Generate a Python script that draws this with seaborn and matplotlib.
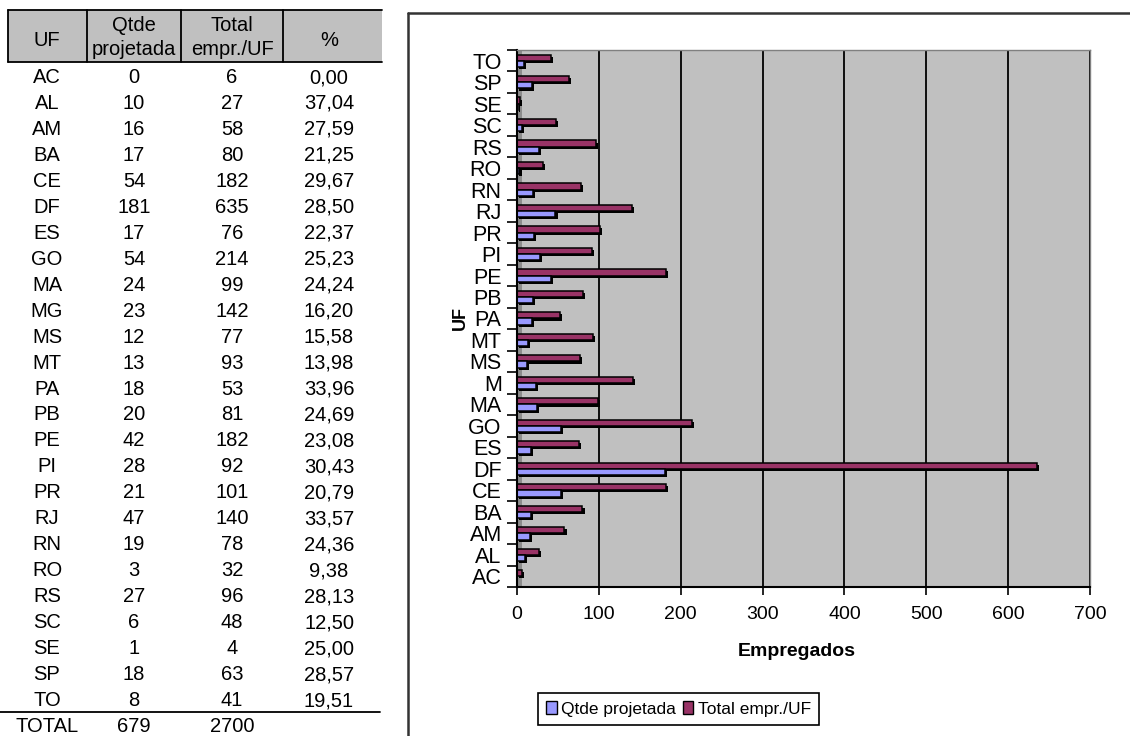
import numpy as np
import pandas as pd
import seaborn as sns
import matplotlib.pyplot as plt
from matplotlib import patheffects
from matplotlib.patches import Rectangle, Patch
from matplotlib.lines import Line2D

# ---- data -------------------------------------------------------------
uf = ["AC", "AL", "AM", "BA", "CE", "DF", "ES", "GO", "MA", "MG", "MS", "MT", "PA",
      "PB", "PE", "PI", "PR", "RJ", "RN", "RO", "RS", "SC", "SE", "SP", "TO"]
chart_labels = ["AC", "AL", "AM", "BA", "CE", "DF", "ES", "GO", "MA", "M", "MS", "MT", "PA",
                "PB", "PE", "PI", "PR", "RJ", "RN", "RO", "RS", "SC", "SE", "SP", "TO"]
qtde_projetada = [0, 10, 16, 17, 54, 181, 17, 54, 24, 23, 12, 13, 18,
                  20, 42, 28, 21, 47, 19, 3, 27, 6, 1, 18, 8]
total_empr = [6, 27, 58, 80, 182, 635, 76, 214, 99, 142, 77, 93, 53,
              81, 182, 92, 101, 140, 78, 32, 96, 48, 4, 63, 41]
percentual = [0.00, 37.04, 27.59, 21.25, 29.67, 28.50, 22.37, 25.23, 24.24, 16.20, 15.58, 13.98, 33.96,
              24.69, 23.08, 30.43, 20.79, 33.57, 24.36, 9.38, 28.13, 12.50, 25.00, 28.57, 19.51]
soma_qtde = 679
soma_total = 2700
series_names = ["Qtde projetada", "Total empr./UF"]
x_ticks = [0, 100, 200, 300, 400, 500, 600, 700]

COR_QTDE = "#9999FF"
COR_TOTAL = "#993366"

# ---- style ------------------------------------------------------------
sns.set_theme(style="white")
plt.rcParams["font.family"] = ["Liberation Sans", "DejaVu Sans"]
plt.rcParams["text.color"] = "black"
plt.rcParams["axes.labelcolor"] = "black"
plt.rcParams["xtick.color"] = "black"
plt.rcParams["ytick.color"] = "black"

W, H = 1130, 736
fig = plt.figure(figsize=(W / 100, H / 100), dpi=100)


def fx(px):
    return px / W


def fy(py):
    return 1 - py / H


# ---- table on the left -------------------------------------------------
fig.add_artist(Rectangle((fx(8), fy(62)), fx(382 - 8), (62 - 10) / H,
                         transform=fig.transFigure, fc="#C0C0C0", ec="none", zorder=0))
for y in (10, 62):
    fig.add_artist(Line2D([fx(8), fx(382)], [fy(y), fy(y)], transform=fig.transFigure,
                          color="black", lw=1.3))
for x in (8, 87, 181, 283):
    fig.add_artist(Line2D([fx(x), fx(x)], [fy(10), fy(62)], transform=fig.transFigure,
                          color="black", lw=1.3))

col_x = [47, 134, 232, 329]
tfs = 14.5
fig.text(fx(col_x[0]), fy(46), "UF", ha="center", va="baseline", fontsize=tfs)
fig.text(fx(col_x[1]), fy(31), "Qtde", ha="center", va="baseline", fontsize=tfs)
fig.text(fx(col_x[1]), fy(55), "projetada", ha="center", va="baseline", fontsize=tfs)
fig.text(fx(col_x[2]), fy(31), "Total", ha="center", va="baseline", fontsize=tfs)
fig.text(fx(col_x[2]), fy(55), "empr./UF", ha="center", va="baseline", fontsize=tfs)
fig.text(fx(col_x[3]), fy(46), "%", ha="center", va="baseline", fontsize=tfs)

row0, step = 83.0, 25.96
for i, (u, q, t, p) in enumerate(zip(uf, qtde_projetada, total_empr, percentual)):
    yb = fy(row0 + step * i)
    fig.text(fx(col_x[0]), yb, u, ha="center", va="baseline", fontsize=tfs)
    fig.text(fx(col_x[1]), yb, str(q), ha="center", va="baseline", fontsize=tfs)
    fig.text(fx(col_x[2]), yb, str(t), ha="center", va="baseline", fontsize=tfs)
    fig.text(fx(col_x[3]), yb, f"{p:.2f}".replace(".", ","), ha="center", va="baseline", fontsize=tfs)

fig.add_artist(Line2D([fx(0), fx(380)], [fy(712), fy(712)], transform=fig.transFigure,
                      color="black", lw=1.3))
yb = fy(row0 + step * len(uf))
fig.text(fx(col_x[0]), yb, "TOTAL", ha="center", va="baseline", fontsize=tfs)
fig.text(fx(col_x[1]), yb, str(soma_qtde), ha="center", va="baseline", fontsize=tfs)
fig.text(fx(col_x[2]), yb, str(soma_total), ha="center", va="baseline", fontsize=tfs)

# ---- chart frame ---------------------------------------------------------
fig.add_artist(Line2D([fx(408), 1], [fy(13), fy(13)], transform=fig.transFigure,
                      color="#333333", lw=1.8))
fig.add_artist(Line2D([fx(408), fx(408)], [fy(13), 0], transform=fig.transFigure,
                      color="#333333", lw=1.8))

# ---- bar chart -------------------------------------------------------------
ax = fig.add_axes([fx(517), fy(587), fx(1090 - 517), (587 - 50) / H])

df = pd.DataFrame({
    "UF": chart_labels * 2,
    "Empregados": qtde_projetada + total_empr,
    "Serie": [series_names[0]] * len(uf) + [series_names[1]] * len(uf),
})

sns.barplot(data=df, y="UF", x="Empregados", hue="Serie",
            order=chart_labels[::-1], hue_order=[series_names[1], series_names[0]],
            palette={series_names[0]: COR_QTDE, series_names[1]: COR_TOTAL},
            orient="h", width=0.58, dodge=True, saturation=1,
            edgecolor="black", linewidth=1.1, legend=False, ax=ax)

for patch in ax.patches:
    patch.set_path_effects([
        patheffects.SimplePatchShadow(offset=(1.5, -1.5), shadow_rgbFace="black", alpha=1.0),
        patheffects.Normal(),
    ])

ax.set_facecolor("#C0C0C0")
ax.add_patch(Rectangle((0, 0), 0.008, 1, transform=ax.transAxes,
                       fc="#8c8c8c", ec="none", zorder=0.4))
ax.set_axisbelow(True)
ax.grid(axis="x", color="black", linewidth=1.3)
ax.grid(axis="y", visible=False)

ax.set_xlim(0, 700)
ax.set_xticks(x_ticks)
ax.set_xticklabels([str(v) for v in x_ticks], fontsize=14)
ax.tick_params(axis="x", which="major", length=6, width=1.2, direction="out", pad=8, bottom=True)

n = len(chart_labels)
ax.set_ylim(n - 0.5, -0.5)
ax.set_yticks(np.arange(-0.5, n, 1.0))
ax.set_yticklabels([])
ax.set_yticks(np.arange(n), minor=True)
ax.set_yticklabels(chart_labels[::-1], minor=True, fontsize=15.5)
ax.tick_params(axis="y", which="major", length=7, width=1.2, direction="out", left=True)
ax.tick_params(axis="y", which="minor", length=0, pad=11, left=True)

for side in ("left", "bottom"):
    ax.spines[side].set_color("black")
    ax.spines[side].set_linewidth(1.5)
for side in ("top", "right"):
    ax.spines[side].set_color("#808080")
    ax.spines[side].set_linewidth(1.0)

ax.set_xlabel("Empregados", fontsize=14, fontweight="bold")
ax.xaxis.set_label_coords((797 - 517) / (1090 - 517), (587 - 643) / (587 - 50))
ax.set_ylabel("UF", fontsize=13, fontweight="bold")
ax.yaxis.set_label_coords((469 - 517) / (1090 - 517), 0.5)

handles = [Patch(fc=COR_QTDE, ec="black", label=series_names[0]),
           Patch(fc=COR_TOTAL, ec="black", label=series_names[1])]
leg = fig.legend(handles=handles, loc="center", bbox_to_anchor=(fx(678.5), fy(709)),
                 ncol=2, frameon=True, fancybox=False, edgecolor="black", framealpha=1,
                 fontsize=12.5, handlelength=0.6, handleheight=0.7, handletextpad=0.25,
                 columnspacing=0.4, borderpad=0.5, borderaxespad=0)
leg.get_frame().set_linewidth(1.2)

fig.savefig("out.png", dpi=100)
